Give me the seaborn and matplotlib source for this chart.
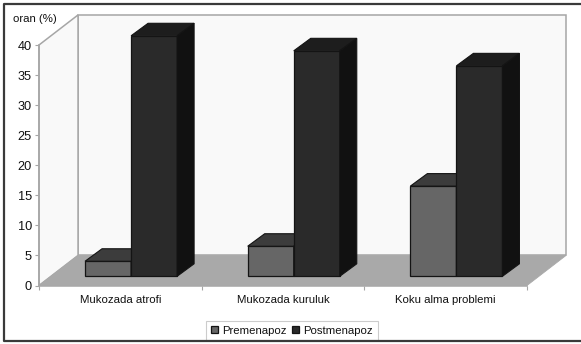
import matplotlib
matplotlib.use('Agg')
import matplotlib.pyplot as plt
from matplotlib.lines import Line2D
from matplotlib.patches import Polygon
import pandas as pd
import seaborn as sns

categories = ['Mukozada atrofi', 'Mukozada kuruluk', 'Koku alma problemi']
premenapoz = [2.5, 5, 15]
postmenapoz = [40, 37.5, 35]
y_ticks = [0, 5, 10, 15, 20, 25, 30, 35, 40]

W, H = 581, 344
# chart box in pixels
L, R, T, B = 39, 527, 45, 285.5

sns.set_style('white')
plt.rcParams['font.family'] = ['Liberation Sans', 'DejaVu Sans']

df = pd.DataFrame({
    'kategori': categories * 2,
    'grup': ['Premenapoz'] * 3 + ['Postmenapoz'] * 3,
    'oran': premenapoz + postmenapoz,
})

fig = plt.figure(figsize=(W / 100, H / 100), dpi=100, facecolor='white')
ax = fig.add_axes([L / W, 1 - B / H, (R - L) / W, (B - T) / H])
ax.patch.set_alpha(0)

# depth of box and of bars, in data units
wall_dx, wall_dy = 0.24, 5
bar_dx, bar_dy = 0.1045, 2.08
base_dx, base_dy = 0.066, 1.53

sns.barplot(data=df, x='kategori', y='oran', hue='grup', order=categories,
            palette={'Premenapoz': '#666666', 'Postmenapoz': '#2a2a2a'},
            width=0.566, gap=0, edgecolor='#141414', linewidth=0.9,
            zorder=5, ax=ax)
ax.set_xlim(-0.5, 2.5)
ax.set_ylim(0, 40)

# walls and floor
x0, x1 = -0.5, 2.5
edge = '#a6a6a6'
ax.add_patch(Polygon([(x0 + wall_dx, wall_dy), (x1 + wall_dx, wall_dy), (x1 + wall_dx, 40 + wall_dy),
                      (x0 + wall_dx, 40 + wall_dy)], fc='#f9f9f9', ec=edge, lw=1.1, clip_on=False, zorder=1))
ax.add_patch(Polygon([(x0, 0), (x0 + wall_dx, wall_dy), (x0 + wall_dx, 40 + wall_dy), (x0, 40)],
                     fc='#f9f9f9', ec=edge, lw=1.1, clip_on=False, zorder=1))
ax.add_patch(Polygon([(x0, 0), (x0 + wall_dx, wall_dy), (x1 + wall_dx, wall_dy), (x1, 0)],
                     fc='#a9a9a9', ec='#a9a9a9', lw=0.6, clip_on=False, zorder=2))

# tops and sides of the bars
shades = [('#3c3c3c', '#333333'), ('#1d1d1d', '#111111')]
for cont, (top_c, side_c) in zip(ax.containers, shades):
    z = 4 if top_c == '#3c3c3c' else 6
    for bar in cont:
        bar.set_x(bar.get_x() + base_dx)
        bar.set_y(base_dy)
        bar.set_zorder(z)
        bar.set_clip_on(False)
        bx, by, bw, bh = bar.get_x(), bar.get_y(), bar.get_width(), bar.get_height()
        ax.add_patch(Polygon([(bx, by + bh), (bx + bar_dx, by + bh + bar_dy),
                              (bx + bw + bar_dx, by + bh + bar_dy), (bx + bw, by + bh)],
                             fc=top_c, ec='#141414', lw=0.8, clip_on=False, zorder=z))
        ax.add_patch(Polygon([(bx + bw, by), (bx + bw + bar_dx, by + bar_dy),
                              (bx + bw + bar_dx, by + bh + bar_dy), (bx + bw, by + bh)],
                             fc=side_c, ec='#141414', lw=0.8, clip_on=False, zorder=z))

# axes
for s in ['top', 'right']:
    ax.spines[s].set_visible(False)
for s in ['left', 'bottom']:
    ax.spines[s].set_color(edge)
    ax.spines[s].set_linewidth(1.1)
    ax.spines[s].set_zorder(3)
ax.set_yticks(y_ticks)
ax.set_xticks([-0.5, 0.5, 1.5, 2.5], minor=True)
ax.tick_params(axis='y', labelsize=9.2, length=3, width=0.8, color=edge, pad=2, left=True, labelcolor='#111111')
ax.tick_params(axis='x', which='major', length=0, labelsize=8.2, pad=6.5, labelcolor='#111111')
ax.tick_params(axis='x', which='minor', length=3, width=0.8, color=edge, bottom=True)
ax.set_xlabel('')
ax.set_ylabel('oran (%)', rotation=0, va='center', fontsize=8.2, color='#111111')
ax.yaxis.set_label_coords((35 - L) / (R - L), (B - 19) / (B - T), transform=ax.transAxes)

handles, labels = ax.get_legend_handles_labels()
leg = ax.legend(handles, labels, ncol=2, loc='center', frameon=True, fancybox=False,
                bbox_to_anchor=((292 - L) / (R - L), (B - 330.5) / (B - T)), fontsize=8.2,
                edgecolor='#cccccc', framealpha=1, handlelength=0.65, handleheight=0.65,
                handletextpad=0.35, columnspacing=0.45, borderpad=0.4, labelcolor='#111111')
leg.get_frame().set_linewidth(0.8)

# outer frame of the figure, open on the right
frame_x = [W / W, 3.5 / W, 3.5 / W, W / W]
frame_y = [1 - 3.5 / H, 1 - 3.5 / H, 1 - 341 / H, 1 - 341 / H]
fig.add_artist(Line2D(frame_x, frame_y, transform=fig.transFigure, color='#3a3a3a', lw=1.6))

fig.savefig('out.png', dpi=100)
